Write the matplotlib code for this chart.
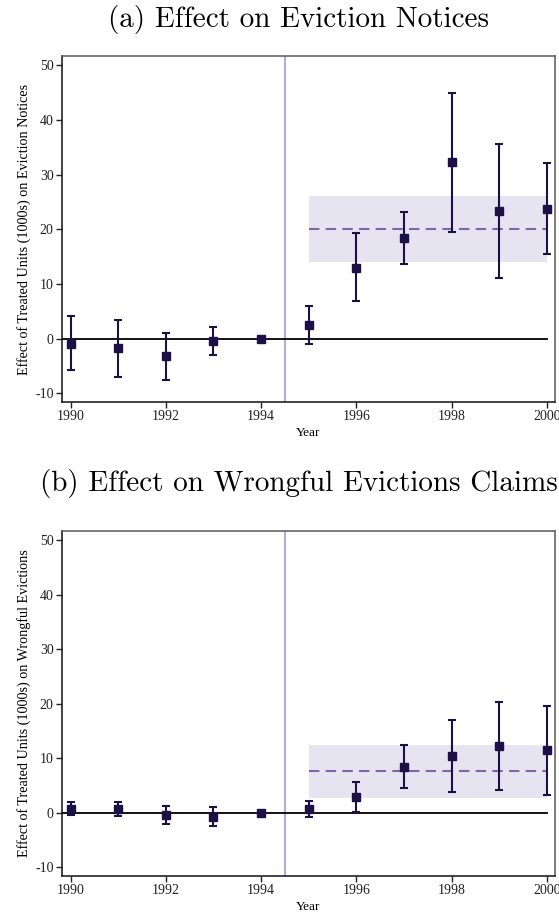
import matplotlib
matplotlib.use("Agg")
import matplotlib.pyplot as plt
import numpy as np

years = [1990, 1991, 1992, 1993, 1994, 1995, 1996, 1997, 1998, 1999, 2000]

# Panel (a): eviction notices
est_a = [-0.9, -1.8, -3.2, -0.4, 0.0, 2.4, 13.0, 18.4, 32.3, 23.3, 23.7]
hi_a = [4.1, 3.4, 1.0, 2.2, 0.0, 6.0, 19.3, 23.1, 45.0, 35.6, 32.1]
lo_a = [-5.7, -7.0, -7.5, -3.0, 0.0, -0.9, 6.8, 13.6, 19.5, 11.1, 15.4]
avg_a = 20.1
band_a = (14.1, 26.1)

# Panel (b): wrongful eviction claims
est_b = [0.7, 0.7, -0.4, -0.7, 0.0, 0.7, 2.9, 8.4, 10.4, 12.2, 11.5]
hi_b = [2.0, 2.0, 1.3, 1.0, 0.0, 2.2, 5.7, 12.4, 17.0, 20.4, 19.5]
lo_b = [-0.4, -0.5, -2.1, -2.5, 0.0, -0.8, 0.1, 4.5, 3.8, 4.2, 3.3]
avg_b = 7.7
band_b = (2.75, 12.5)

titles = ["(a) Effect on Eviction Notices", "(b) Effect on Wrongful Evictions Claims"]
ylabels = ["Effect of Treated Units (1000s) on Eviction Notices",
           "Effect of Treated Units (1000s) on Wrongful Evictions"]
xticks = [1990, 1992, 1994, 1996, 1998, 2000]
yticks = [-10, 0, 10, 20, 30, 40, 50]
post_start, post_end = 1995, 2000
treat_line = 1994.5

W, H = 559, 914
fig = plt.figure(figsize=(W / 100, H / 100), dpi=100)

navy = "#1c1045"
band_col = "#e7e4f1"
dash_col = "#7a68a8"
vline_col = "#b4acd6"

def px_axes(left, top, right, bottom):
    return fig.add_axes([left / W, 1 - bottom / H, (right - left) / W, (bottom - top) / H])

panels = [
    (est_a, hi_a, lo_a, avg_a, band_a, (62, 56, 555, 402), 20),
    (est_b, hi_b, lo_b, avg_b, band_b, (62, 531, 555, 876), 484),
]

for i, (est, hi, lo, avg, band, box, ty) in enumerate(panels):
    ax = px_axes(*box)
    est = np.array(est); hi = np.array(hi); lo = np.array(lo)
    ax.fill_between([post_start, post_end], band[0], band[1], color=band_col, lw=0, zorder=1)
    ax.plot([post_start, post_end], [avg, avg], ls=(0, (5, 3)), color=dash_col, lw=1.5, zorder=2)
    ax.axvline(treat_line, color=vline_col, lw=1.5, zorder=2)
    ax.plot([1989.82, 2000], [0, 0], color="black", lw=1.3, zorder=3)
    ax.errorbar(years, est, yerr=[est - lo, hi - est], fmt="s", color=navy,
                ms=5.5, elinewidth=1.5, capsize=3, capthick=1.5, zorder=4)
    ax.set_xlim(1989.82, 2000.17)
    ax.set_ylim(-11.6, 51.7)
    ax.set_xticks(xticks)
    ax.set_yticks(yticks)
    ax.set_xticklabels([str(x) for x in xticks], family="Liberation Serif", fontsize=10)
    ax.set_yticklabels(["-10", "0", "10", "20", "30", "40", "50"], family="Liberation Serif", fontsize=10)
    ax.tick_params(direction="out", length=4, width=1, pad=2, colors="#222222")
    for s in ["left", "bottom"]:
        ax.spines[s].set_color("#222222")
        ax.spines[s].set_linewidth(1.2)
    for s in ["top", "right"]:
        ax.spines[s].set_color("#666666")
        ax.spines[s].set_linewidth(1.2)
    ax.set_ylabel(ylabels[i], family="Liberation Serif", fontsize=10.2, labelpad=3)
    ax.set_xlabel("Year", family="Liberation Serif", fontsize=9.5, labelpad=2.5)
    fig.text(299 / W, 1 - ty / H, titles[i], family="cmr10", fontsize=21,
             ha="center", va="center")

fig.savefig("out.png", dpi=100)
